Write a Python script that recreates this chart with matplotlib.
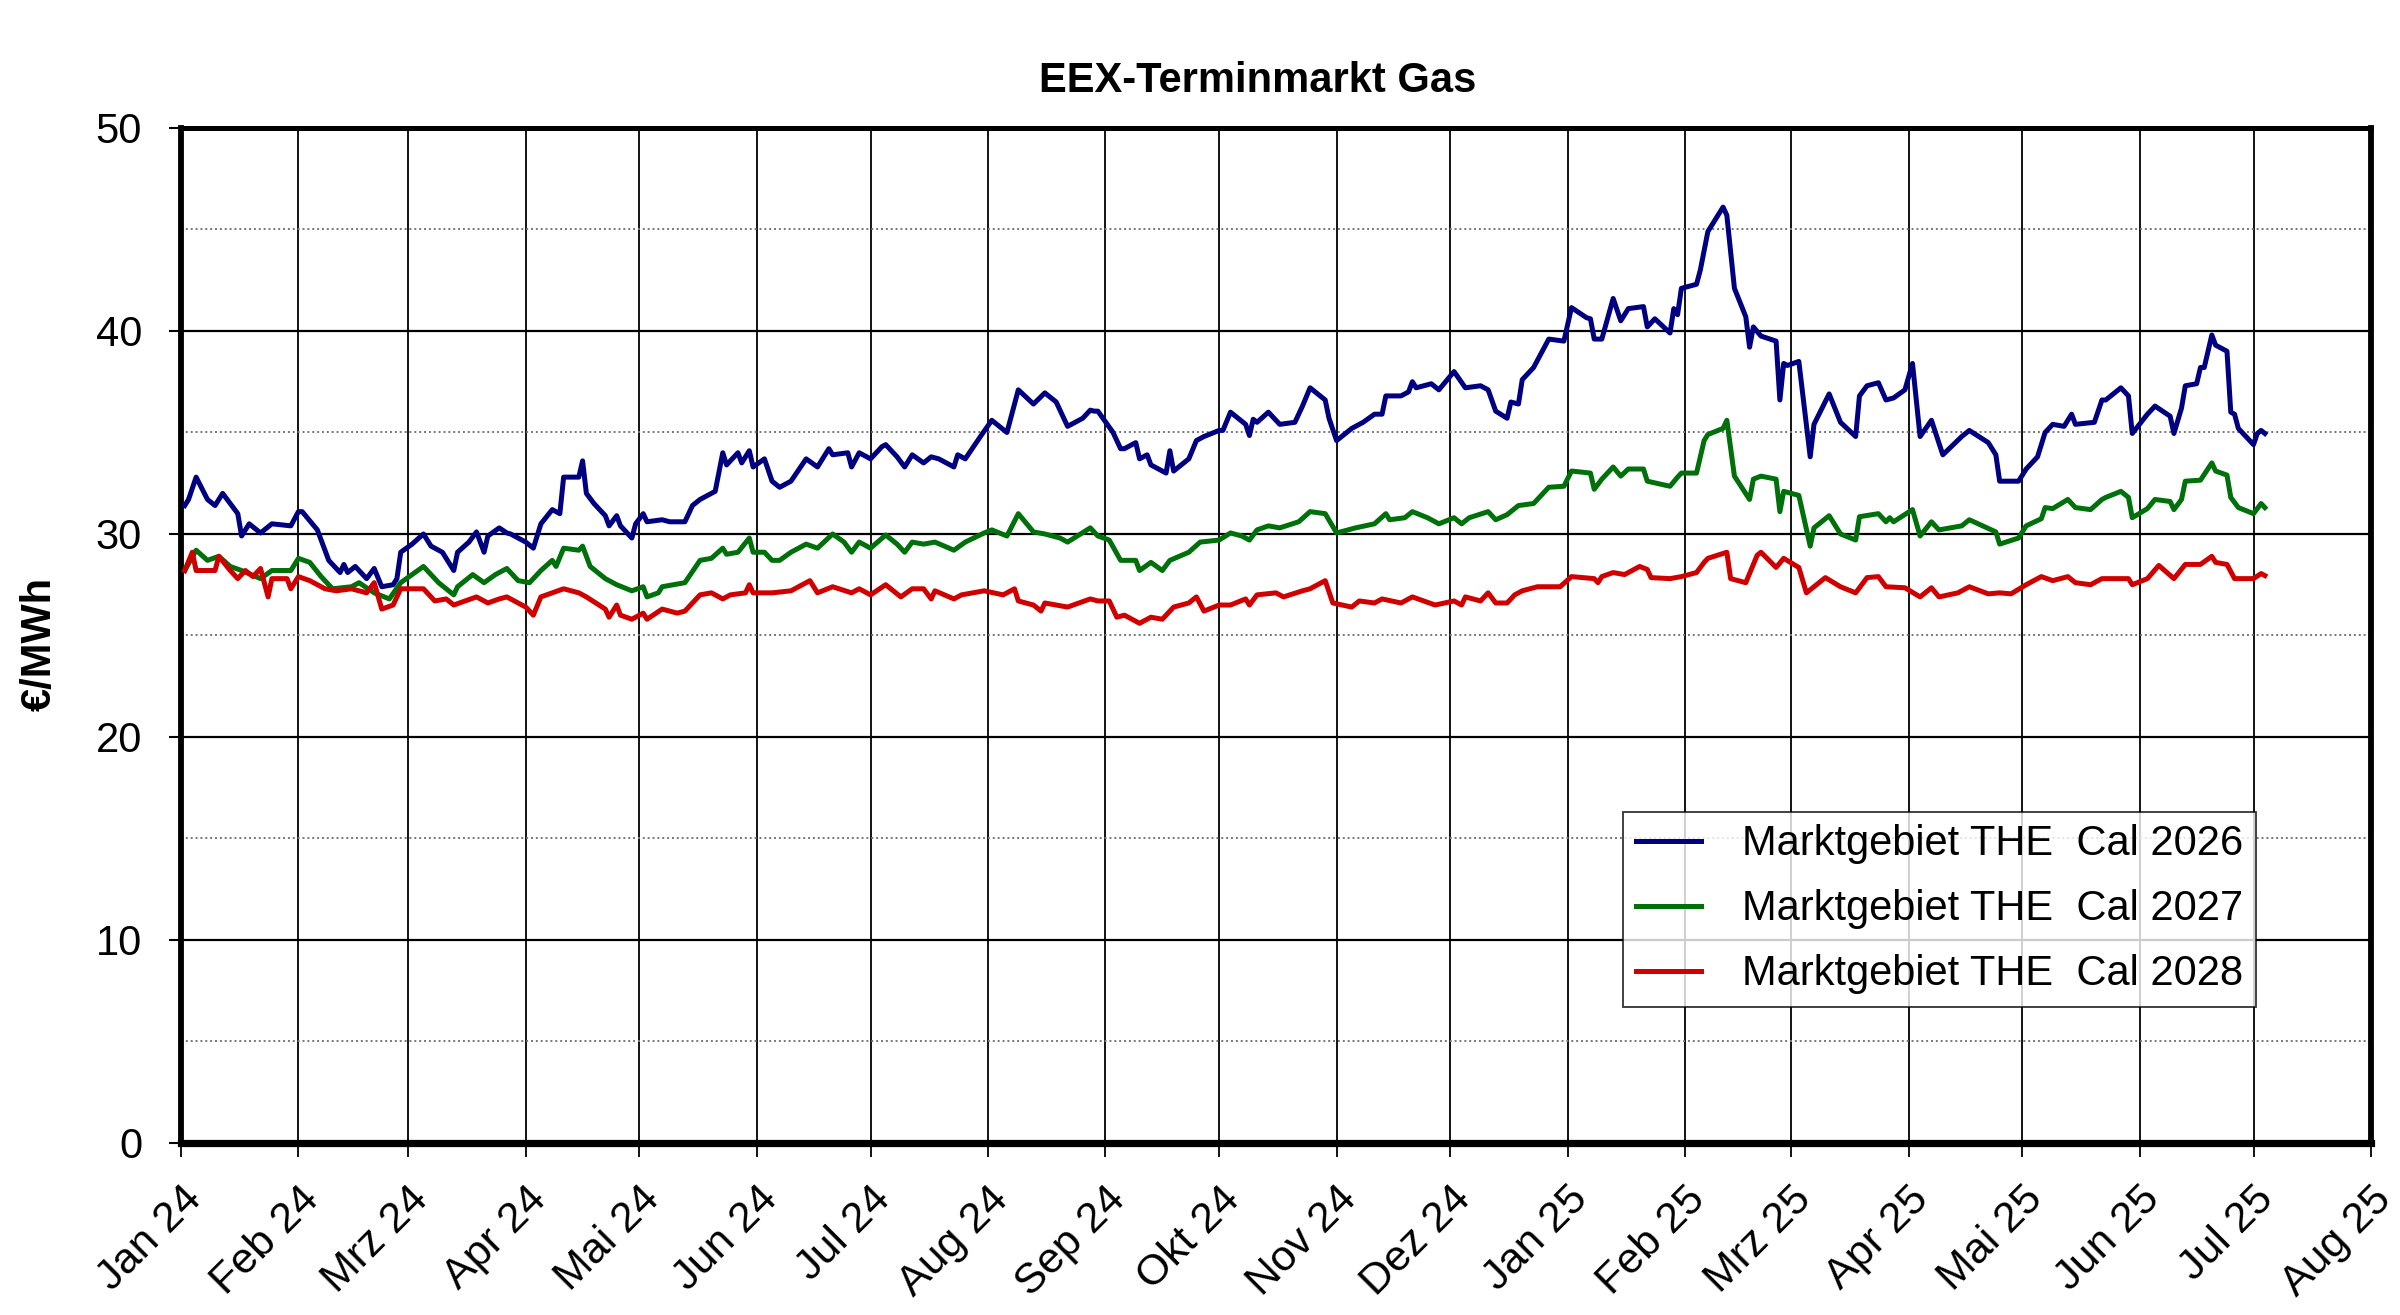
import matplotlib
matplotlib.use("Agg")
import matplotlib.pyplot as plt
import numpy as np
from matplotlib.ticker import MultipleLocator

plt.rcParams['font.family'] = ['Liberation Sans', 'DejaVu Sans']

# ---- data (EUR/MWh) ----
cal26_dates = [
    "2024-01-02", "2024-01-03", "2024-01-05", "2024-01-08", "2024-01-10", "2024-01-12", "2024-01-14",
    "2024-01-16", "2024-01-17", "2024-01-19", "2024-01-22", "2024-01-25", "2024-01-30", "2024-02-01",
    "2024-02-02", "2024-02-06", "2024-02-09", "2024-02-12", "2024-02-13", "2024-02-14", "2024-02-16",
    "2024-02-19", "2024-02-21", "2024-02-23", "2024-02-26", "2024-02-27", "2024-02-28", "2024-03-02",
    "2024-03-05", "2024-03-07", "2024-03-10", "2024-03-13", "2024-03-14", "2024-03-17", "2024-03-19",
    "2024-03-21", "2024-03-22", "2024-03-25", "2024-03-27", "2024-03-28", "2024-04-01", "2024-04-03",
    "2024-04-05", "2024-04-08", "2024-04-10", "2024-04-11", "2024-04-15", "2024-04-16", "2024-04-17",
    "2024-04-19", "2024-04-22", "2024-04-23", "2024-04-25", "2024-04-26", "2024-04-29", "2024-04-30",
    "2024-05-02", "2024-05-03", "2024-05-07", "2024-05-09", "2024-05-13", "2024-05-15", "2024-05-17",
    "2024-05-21", "2024-05-23", "2024-05-24", "2024-05-27", "2024-05-28", "2024-05-30", "2024-05-31",
    "2024-06-03", "2024-06-05", "2024-06-07", "2024-06-10", "2024-06-14", "2024-06-17", "2024-06-20",
    "2024-06-21", "2024-06-25", "2024-06-26", "2024-06-28", "2024-07-01", "2024-07-04", "2024-07-05",
    "2024-07-08", "2024-07-10", "2024-07-12", "2024-07-15", "2024-07-17", "2024-07-19", "2024-07-23",
    "2024-07-24", "2024-07-26", "2024-07-30", "2024-08-02", "2024-08-06", "2024-08-09", "2024-08-13",
    "2024-08-16", "2024-08-19", "2024-08-22", "2024-08-26", "2024-08-28", "2024-08-29", "2024-08-30",
    "2024-09-03", "2024-09-05", "2024-09-06", "2024-09-09", "2024-09-10", "2024-09-12", "2024-09-13",
    "2024-09-17", "2024-09-18", "2024-09-19", "2024-09-23", "2024-09-25", "2024-09-27", "2024-10-01",
    "2024-10-02", "2024-10-04", "2024-10-08", "2024-10-09", "2024-10-10", "2024-10-11", "2024-10-14",
    "2024-10-17", "2024-10-21", "2024-10-23", "2024-10-25", "2024-10-29", "2024-10-30", "2024-11-01",
    "2024-11-05", "2024-11-08", "2024-11-11", "2024-11-13", "2024-11-14", "2024-11-18", "2024-11-20",
    "2024-11-21", "2024-11-22", "2024-11-26", "2024-11-28", "2024-12-02", "2024-12-05", "2024-12-09",
    "2024-12-11", "2024-12-13", "2024-12-16", "2024-12-17", "2024-12-19", "2024-12-20", "2024-12-23",
    "2024-12-27", "2024-12-31", "2025-01-02", "2025-01-06", "2025-01-07", "2025-01-08", "2025-01-10",
    "2025-01-13", "2025-01-15", "2025-01-17", "2025-01-21", "2025-01-22", "2025-01-24", "2025-01-28",
    "2025-01-29", "2025-01-30", "2025-01-31", "2025-02-04", "2025-02-05", "2025-02-07", "2025-02-11",
    "2025-02-12", "2025-02-14", "2025-02-17", "2025-02-18", "2025-02-19", "2025-02-21", "2025-02-25",
    "2025-02-26", "2025-02-27", "2025-02-28", "2025-03-03", "2025-03-06", "2025-03-07", "2025-03-11",
    "2025-03-14", "2025-03-18", "2025-03-19", "2025-03-21", "2025-03-24", "2025-03-26", "2025-03-28",
    "2025-03-31", "2025-04-02", "2025-04-04", "2025-04-07", "2025-04-10", "2025-04-15", "2025-04-17",
    "2025-04-22", "2025-04-24", "2025-04-25", "2025-04-30", "2025-05-02", "2025-05-05", "2025-05-07",
    "2025-05-09", "2025-05-12", "2025-05-14", "2025-05-15", "2025-05-20", "2025-05-22", "2025-05-23",
    "2025-05-27", "2025-05-29", "2025-05-30", "2025-06-03", "2025-06-05", "2025-06-09", "2025-06-10",
    "2025-06-12", "2025-06-13", "2025-06-16", "2025-06-17", "2025-06-18", "2025-06-20", "2025-06-21",
    "2025-06-24", "2025-06-25", "2025-06-26", "2025-06-27", "2025-07-01", "2025-07-02", "2025-07-03",
    "2025-07-04",
]
cal26 = [
    31.4, 31.7, 32.8, 31.7, 31.4, 32.0, 31.5,
    31.0, 29.9, 30.5, 30.05, 30.5, 30.4, 31.1,
    31.1, 30.2, 28.7, 28.1, 28.5, 28.1, 28.4,
    27.8, 28.3, 27.4, 27.5, 27.8, 29.1, 29.5,
    30.0, 29.4, 29.1, 28.2, 29.1, 29.6, 30.1,
    29.1, 29.9, 30.3, 30.05, 30.0, 29.6, 29.3,
    30.5, 31.2, 31.0, 32.8, 32.8, 33.6, 32.0,
    31.5, 30.9, 30.4, 30.9, 30.4, 29.8, 30.5,
    31.0, 30.6, 30.7, 30.6, 30.6, 31.4, 31.7,
    32.1, 34.0, 33.4, 34.0, 33.5, 34.1, 33.3,
    33.7, 32.6, 32.3, 32.6, 33.7, 33.3, 34.2,
    33.9, 34.0, 33.3, 34.0, 33.7, 34.3, 34.4,
    33.8, 33.3, 33.9, 33.5, 33.8, 33.7, 33.3,
    33.9, 33.7, 34.8, 35.6, 35.0, 37.1, 36.4,
    36.95, 36.5, 35.3, 35.7, 36.1, 36.05, 36.05,
    35.0, 34.2, 34.2, 34.5, 33.7, 33.9, 33.4,
    33.0, 34.1, 33.1, 33.7, 34.6, 34.8, 35.1,
    35.1, 36.0, 35.4, 34.85, 35.65, 35.5, 36.0,
    35.4, 35.5, 36.3, 37.2, 36.6, 35.7, 34.6,
    35.2, 35.5, 35.9, 35.9, 36.8, 36.8, 37.0,
    37.5, 37.2, 37.4, 37.1, 38.0, 37.2, 37.3,
    37.1, 36.05, 35.7, 36.5, 36.4, 37.6, 38.2,
    39.6, 39.5, 41.15, 40.65, 40.6, 39.6, 39.6,
    41.6, 40.5, 41.1, 41.2, 40.2, 40.6, 39.9,
    41.1, 40.8, 42.1, 42.3, 43.0, 44.9, 46.1,
    45.7, 42.1, 40.7, 39.2, 40.2, 39.75, 39.5,
    36.6, 38.4, 38.3, 38.5, 33.8, 35.4, 36.9,
    35.5, 34.8, 36.8, 37.3, 37.45, 36.6, 36.7,
    37.1, 38.4, 34.8, 35.6, 33.9, 34.8, 35.1,
    34.5, 33.9, 32.6, 32.6, 33.2, 33.8, 35.0,
    35.4, 35.3, 35.9, 35.4, 35.5, 36.6, 36.6,
    37.2, 36.8, 34.95, 35.9, 36.3, 35.8, 34.95,
    36.2, 37.3, 37.4, 38.2, 38.2, 39.8, 39.3,
    39.0, 36.0, 35.9, 35.2, 34.4, 34.95, 35.1,
    34.95,
]

cal27_dates = [
    "2024-01-02", "2024-01-05", "2024-01-08", "2024-01-11", "2024-01-14", "2024-01-17", "2024-01-22",
    "2024-01-25", "2024-01-30", "2024-02-01", "2024-02-04", "2024-02-07", "2024-02-10", "2024-02-15",
    "2024-02-17", "2024-02-21", "2024-02-25", "2024-02-28", "2024-03-05", "2024-03-09", "2024-03-13",
    "2024-03-14", "2024-03-18", "2024-03-21", "2024-03-24", "2024-03-27", "2024-03-30", "2024-04-02",
    "2024-04-05", "2024-04-08", "2024-04-09", "2024-04-11", "2024-04-15", "2024-04-16", "2024-04-18",
    "2024-04-22", "2024-04-25", "2024-04-29", "2024-05-02", "2024-05-03", "2024-05-06", "2024-05-07",
    "2024-05-10", "2024-05-13", "2024-05-17", "2024-05-20", "2024-05-23", "2024-05-24", "2024-05-27",
    "2024-05-30", "2024-05-31", "2024-06-03", "2024-06-05", "2024-06-07", "2024-06-10", "2024-06-14",
    "2024-06-17", "2024-06-21", "2024-06-24", "2024-06-26", "2024-06-28", "2024-07-01", "2024-07-05",
    "2024-07-08", "2024-07-10", "2024-07-12", "2024-07-15", "2024-07-18", "2024-07-23", "2024-07-26",
    "2024-07-31", "2024-08-02", "2024-08-06", "2024-08-09", "2024-08-13", "2024-08-16", "2024-08-20",
    "2024-08-22", "2024-08-28", "2024-08-30", "2024-09-02", "2024-09-05", "2024-09-09", "2024-09-10",
    "2024-09-13", "2024-09-16", "2024-09-18", "2024-09-23", "2024-09-26", "2024-10-01", "2024-10-04",
    "2024-10-07", "2024-10-09", "2024-10-11", "2024-10-14", "2024-10-17", "2024-10-22", "2024-10-25",
    "2024-10-29", "2024-11-01", "2024-11-06", "2024-11-11", "2024-11-14", "2024-11-15", "2024-11-19",
    "2024-11-21", "2024-11-25", "2024-11-28", "2024-12-02", "2024-12-04", "2024-12-06", "2024-12-11",
    "2024-12-13", "2024-12-16", "2024-12-19", "2024-12-23", "2024-12-27", "2024-12-31", "2025-01-02",
    "2025-01-07", "2025-01-08", "2025-01-10", "2025-01-13", "2025-01-15", "2025-01-17", "2025-01-21",
    "2025-01-22", "2025-01-28", "2025-01-30", "2025-01-31", "2025-02-04", "2025-02-06", "2025-02-07",
    "2025-02-11", "2025-02-12", "2025-02-14", "2025-02-18", "2025-02-19", "2025-02-21", "2025-02-25",
    "2025-02-26", "2025-02-27", "2025-03-03", "2025-03-06", "2025-03-07", "2025-03-11", "2025-03-14",
    "2025-03-18", "2025-03-19", "2025-03-24", "2025-03-26", "2025-03-27", "2025-03-28", "2025-04-02",
    "2025-04-04", "2025-04-07", "2025-04-09", "2025-04-15", "2025-04-17", "2025-04-24", "2025-04-25",
    "2025-04-30", "2025-05-02", "2025-05-06", "2025-05-07", "2025-05-09", "2025-05-13", "2025-05-15",
    "2025-05-19", "2025-05-22", "2025-05-23", "2025-05-27", "2025-05-29", "2025-05-30", "2025-06-03",
    "2025-06-05", "2025-06-09", "2025-06-10", "2025-06-12", "2025-06-13", "2025-06-17", "2025-06-20",
    "2025-06-21", "2025-06-24", "2025-06-25", "2025-06-27", "2025-07-01", "2025-07-03", "2025-07-04",
]
cal27 = [
    28.2, 29.2, 28.7, 28.9, 28.4, 28.2, 27.8,
    28.2, 28.2, 28.8, 28.6, 27.9, 27.3, 27.4,
    27.6, 27.1, 26.8, 27.6, 28.4, 27.6, 27.0,
    27.4, 28.0, 27.6, 28.0, 28.3, 27.7, 27.6,
    28.2, 28.7, 28.4, 29.3, 29.2, 29.4, 28.4,
    27.8, 27.5, 27.2, 27.4, 26.9, 27.1, 27.4,
    27.5, 27.6, 28.7, 28.8, 29.3, 29.0, 29.1,
    29.8, 29.1, 29.1, 28.7, 28.7, 29.1, 29.5,
    29.3, 30.0, 29.6, 29.1, 29.6, 29.3, 29.95,
    29.5, 29.1, 29.6, 29.5, 29.6, 29.2, 29.6,
    30.05, 30.2, 29.9, 31.0, 30.1, 30.0, 29.8,
    29.6, 30.3, 29.9, 29.7, 28.7, 28.7, 28.2,
    28.6, 28.2, 28.7, 29.1, 29.6, 29.7, 30.05,
    29.9, 29.7, 30.2, 30.4, 30.3, 30.6, 31.1,
    31.0, 30.05, 30.3, 30.5, 31.0, 30.7, 30.8,
    31.1, 30.8, 30.5, 30.8, 30.5, 30.8, 31.1,
    30.7, 30.95, 31.4, 31.5, 32.3, 32.35, 33.1,
    33.0, 32.2, 32.7, 33.3, 32.85, 33.2, 33.2,
    32.6, 32.35, 32.8, 33.0, 33.0, 34.6, 34.9,
    35.2, 35.6, 32.85, 31.7, 32.7, 32.85, 32.7,
    31.1, 32.1, 31.9, 29.4, 30.3, 30.9, 30.0,
    29.7, 30.85, 31.0, 30.6, 30.8, 30.6, 31.2,
    29.9, 30.6, 30.2, 30.4, 30.7, 30.1, 29.5,
    29.8, 30.4, 30.75, 31.3, 31.25, 31.7, 31.3,
    31.2, 31.7, 31.8, 32.1, 31.8, 30.8, 31.25,
    31.7, 31.6, 31.2, 31.7, 32.6, 32.65, 33.5,
    33.1, 32.9, 31.8, 31.3, 31.0, 31.5, 31.3,
]

cal28_dates = [
    "2024-01-02", "2024-01-04", "2024-01-05", "2024-01-10", "2024-01-11", "2024-01-14", "2024-01-16",
    "2024-01-18", "2024-01-20", "2024-01-22", "2024-01-24", "2024-01-25", "2024-01-29", "2024-01-30",
    "2024-02-01", "2024-02-04", "2024-02-08", "2024-02-11", "2024-02-15", "2024-02-19", "2024-02-21",
    "2024-02-23", "2024-02-26", "2024-02-28", "2024-03-05", "2024-03-08", "2024-03-11", "2024-03-13",
    "2024-03-16", "2024-03-19", "2024-03-22", "2024-03-25", "2024-03-27", "2024-04-01", "2024-04-03",
    "2024-04-05", "2024-04-08", "2024-04-11", "2024-04-15", "2024-04-17", "2024-04-22", "2024-04-23",
    "2024-04-25", "2024-04-26", "2024-04-29", "2024-05-02", "2024-05-03", "2024-05-07", "2024-05-11",
    "2024-05-13", "2024-05-17", "2024-05-20", "2024-05-23", "2024-05-25", "2024-05-29", "2024-05-30",
    "2024-05-31", "2024-06-05", "2024-06-10", "2024-06-15", "2024-06-17", "2024-06-21", "2024-06-26",
    "2024-06-28", "2024-07-01", "2024-07-05", "2024-07-09", "2024-07-12", "2024-07-15", "2024-07-17",
    "2024-07-18", "2024-07-23", "2024-07-25", "2024-07-31", "2024-08-05", "2024-08-08", "2024-08-09",
    "2024-08-13", "2024-08-15", "2024-08-16", "2024-08-22", "2024-08-28", "2024-08-30", "2024-09-02",
    "2024-09-04", "2024-09-06", "2024-09-10", "2024-09-13", "2024-09-16", "2024-09-19", "2024-09-23",
    "2024-09-25", "2024-09-27", "2024-10-01", "2024-10-04", "2024-10-08", "2024-10-09", "2024-10-11",
    "2024-10-16", "2024-10-18", "2024-10-23", "2024-10-25", "2024-10-29", "2024-10-31", "2024-11-05",
    "2024-11-07", "2024-11-11", "2024-11-13", "2024-11-18", "2024-11-21", "2024-11-27", "2024-12-02",
    "2024-12-04", "2024-12-05", "2024-12-09", "2024-12-11", "2024-12-13", "2024-12-16", "2024-12-18",
    "2024-12-20", "2024-12-24", "2024-12-30", "2025-01-02", "2025-01-08", "2025-01-09", "2025-01-10",
    "2025-01-13", "2025-01-16", "2025-01-20", "2025-01-22", "2025-01-23", "2025-01-28", "2025-01-31",
    "2025-02-04", "2025-02-06", "2025-02-07", "2025-02-12", "2025-02-13", "2025-02-17", "2025-02-20",
    "2025-02-21", "2025-02-25", "2025-02-27", "2025-03-03", "2025-03-05", "2025-03-10", "2025-03-14",
    "2025-03-18", "2025-03-21", "2025-03-24", "2025-03-26", "2025-03-31", "2025-04-04", "2025-04-07",
    "2025-04-09", "2025-04-14", "2025-04-17", "2025-04-22", "2025-04-25", "2025-04-28", "2025-05-02",
    "2025-05-06", "2025-05-09", "2025-05-13", "2025-05-15", "2025-05-19", "2025-05-22", "2025-05-29",
    "2025-05-30", "2025-06-03", "2025-06-06", "2025-06-10", "2025-06-13", "2025-06-17", "2025-06-20",
    "2025-06-21", "2025-06-24", "2025-06-26", "2025-07-01", "2025-07-03", "2025-07-04",
]
cal28 = [
    28.2, 29.1, 28.2, 28.2, 28.9, 28.2, 27.8,
    28.2, 27.9, 28.3, 26.9, 27.8, 27.8, 27.3,
    27.9, 27.7, 27.3, 27.2, 27.3, 27.1, 27.6,
    26.3, 26.5, 27.3, 27.3, 26.7, 26.8, 26.5,
    26.7, 26.9, 26.6, 26.8, 26.9, 26.4, 26.0,
    26.9, 27.1, 27.3, 27.1, 26.9, 26.3, 25.9,
    26.5, 26.0, 25.8, 26.1, 25.8, 26.3, 26.1,
    26.2, 27.0, 27.1, 26.8, 27.0, 27.1, 27.5,
    27.1, 27.1, 27.2, 27.7, 27.1, 27.4, 27.1,
    27.3, 27.0, 27.5, 26.9, 27.3, 27.3, 26.8,
    27.2, 26.8, 27.0, 27.2, 27.0, 27.3, 26.7,
    26.5, 26.2, 26.6, 26.4, 26.8, 26.7, 26.7,
    25.9, 26.0, 25.6, 25.9, 25.8, 26.4, 26.6,
    26.9, 26.2, 26.5, 26.5, 26.8, 26.5, 27.0,
    27.1, 26.9, 27.2, 27.3, 27.7, 26.6, 26.4,
    26.7, 26.6, 26.8, 26.6, 26.9, 26.5, 26.7,
    26.5, 26.9, 26.7, 27.1, 26.6, 26.6, 27.0,
    27.2, 27.4, 27.4, 27.9, 27.8, 27.6, 27.9,
    28.1, 28.0, 28.4, 28.25, 27.85, 27.8, 27.9,
    28.1, 28.6, 28.8, 29.1, 27.8, 27.6, 28.95,
    29.1, 28.35, 28.8, 28.35, 27.1, 27.85, 27.4,
    27.1, 27.85, 27.9, 27.4, 27.35, 26.9, 27.35,
    26.9, 27.1, 27.4, 27.05, 27.1, 27.05, 27.5,
    27.9, 27.7, 27.9, 27.6, 27.5, 27.8, 27.8,
    27.5, 27.8, 28.45, 27.8, 28.5, 28.5, 28.9,
    28.6, 28.5, 27.8, 27.8, 28.05, 27.95,
]

series_labels = ["Marktgebiet THE  Cal 2026", "Marktgebiet THE  Cal 2027", "Marktgebiet THE  Cal 2028"]
series_colors = ["#000080", "#00700a", "#d00000"]

month_starts = [
    "2024-01-01", "2024-02-01", "2024-03-01", "2024-04-01", "2024-05-01", "2024-06-01", "2024-07-01",
    "2024-08-01", "2024-09-01", "2024-10-01", "2024-11-01", "2024-12-01", "2025-01-01", "2025-02-01",
    "2025-03-01", "2025-04-01", "2025-05-01", "2025-06-01", "2025-07-01", "2025-08-01",
]
month_labels = [
    "Jan 24", "Feb 24", "Mrz 24", "Apr 24", "Mai 24", "Jun 24", "Jul 24", "Aug 24", "Sep 24", "Okt 24",
    "Nov 24", "Dez 24", "Jan 25", "Feb 25", "Mrz 25", "Apr 25", "Mai 25", "Jun 25", "Jul 25", "Aug 25",
]

# ---- figure ----
fig = plt.figure(figsize=(24, 13.15), dpi=100)
ax = fig.add_axes([0.0754, 0.1308, 0.9125, 0.7719])

all_dates = [cal26_dates, cal27_dates, cal28_dates]
all_vals = [cal26, cal27, cal28]
for d, v, lab, col in zip(all_dates, all_vals, series_labels, series_colors):
    ax.plot(np.array(d, dtype="datetime64[D]"), v, color=col, lw=3.6, label=lab,
            solid_joinstyle="round", zorder=3)

ticks = np.array(month_starts, dtype="datetime64[D]")
ax.set_xlim(ticks[0], ticks[-1])
ax.set_ylim(0, 50)
ax.set_xticks(ticks)
ax.set_xticklabels(month_labels, rotation=45, ha="right", rotation_mode="anchor", fontsize=31)

ax.yaxis.set_major_locator(MultipleLocator(10))
ax.yaxis.set_minor_locator(MultipleLocator(5))
ax.tick_params(axis="y", which="major", labelsize=30, length=9, width=1.5, pad=19)
ax.tick_params(axis="y", which="minor", length=0)
ax.tick_params(axis="x", which="major", length=10, width=1.3, pad=16)

ax.set_axisbelow(True)
ax.grid(axis="y", which="major", color="black", lw=1.6)
ax.grid(axis="y", which="minor", color="#777777", lw=1.4, ls=(0, (1, 1.5)))
ax.grid(axis="x", which="major", color="black", lw=1.3)

for side in ["left", "right"]:
    ax.spines[side].set_linewidth(4.2)
ax.spines["top"].set_linewidth(3.6)
ax.spines["bottom"].set_linewidth(5.2)

fig.text(0.524, 1 - 92 / 1315, "EEX-Terminmarkt Gas", ha="center", va="baseline",
         fontsize=30, fontweight="bold")
fig.text(40 / 2400, 1 - 644 / 1315, "€/MWh", ha="center", va="center", rotation=90,
         fontsize=30, fontweight="bold")

leg = ax.legend(loc="lower right", bbox_to_anchor=(0.9475, 0.134), borderaxespad=0,
                fontsize=30, frameon=True, fancybox=False, edgecolor="black",
                handlelength=1.56, handletextpad=1.0, labelspacing=0.6, borderpad=0.3)
leg.get_frame().set_linewidth(1.3)
for line in leg.get_lines():
    line.set_linewidth(3.6)

fig.savefig("out.png", dpi=100, facecolor="white")
